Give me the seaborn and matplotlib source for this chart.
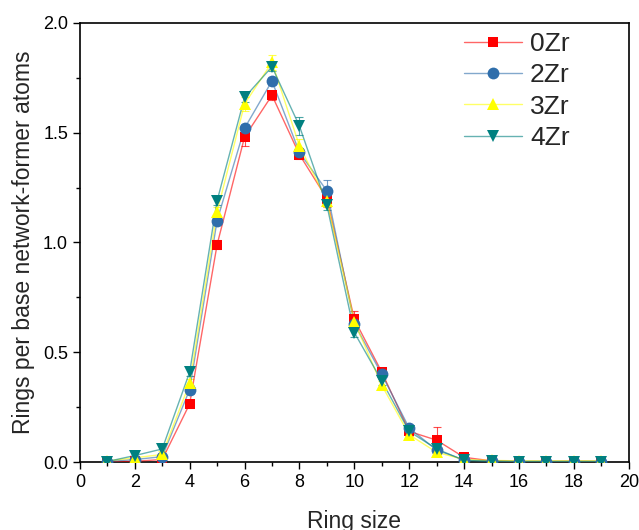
import numpy as np
import pandas as pd
import matplotlib
matplotlib.use("Agg")
import matplotlib.pyplot as plt
from matplotlib.ticker import MultipleLocator
import seaborn as sns

ring_size = list(range(1, 20))
labels = ["0Zr", "2Zr", "3Zr", "4Zr"]

zr0 = [0.002, 0.004, 0.012, 0.265, 0.99, 1.48, 1.67, 1.40, 1.20, 0.65, 0.41, 0.14, 0.10, 0.022, 0.006, 0.003, 0.003, 0.004, 0.003]
zr2 = [0.003, 0.012, 0.025, 0.33, 1.10, 1.52, 1.735, 1.41, 1.235, 0.63, 0.40, 0.155, 0.055, 0.010, 0.005, 0.003, 0.003, 0.003, 0.003]
zr3 = [0.006, 0.020, 0.035, 0.36, 1.14, 1.63, 1.82, 1.44, 1.19, 0.64, 0.35, 0.125, 0.045, 0.012, 0.008, 0.006, 0.006, 0.006, 0.006]
zr4 = [0.003, 0.030, 0.060, 0.41, 1.19, 1.66, 1.80, 1.53, 1.17, 0.59, 0.37, 0.14, 0.06, 0.008, 0.004, 0.003, 0.003, 0.003, 0.003]

err0 = [0.003, 0.005, 0.01, 0.02, 0.02, 0.04, 0.02, 0.02, 0.04, 0.04, 0.02, 0.02, 0.06, 0.015, 0.004, 0.002, 0.002, 0.003, 0.002]
err2 = [0.003, 0.008, 0.01, 0.02, 0.02, 0.02, 0.02, 0.02, 0.05, 0.03, 0.02, 0.015, 0.01, 0.006, 0.004, 0.002, 0.002, 0.002, 0.002]
err3 = [0.006, 0.01, 0.015, 0.02, 0.02, 0.03, 0.035, 0.03, 0.03, 0.03, 0.02, 0.015, 0.01, 0.006, 0.004, 0.004, 0.004, 0.004, 0.004]
err4 = [0.003, 0.02, 0.02, 0.02, 0.02, 0.02, 0.02, 0.04, 0.02, 0.02, 0.02, 0.01, 0.01, 0.005, 0.003, 0.002, 0.002, 0.002, 0.002]

series = [zr0, zr2, zr3, zr4]
errors = [err0, err2, err3, err4]
colors = ["#ff0000", "#2f6eab", "#ffff00", "#008080"]
markers = ["s", "o", "^", "v"]
msizes = [7.5, 8.5, 9, 9]

df = pd.concat(
    [pd.DataFrame({"Ring size": ring_size, "value": v, "sample": lab})
     for v, lab in zip(series, labels)],
    ignore_index=True,
)

sns.set_style("white")
plt.rcParams["font.family"] = ["Liberation Sans", "DejaVu Sans"]

fig = plt.figure(figsize=(6.39, 5.30), dpi=100)
ax = fig.add_axes([0.125, 0.128, 0.859, 0.829])

for lab, v, e, c, m, ms in zip(labels, series, errors, colors, markers, msizes):
    ax.errorbar(ring_size, v, yerr=e, fmt="none", ecolor=c, elinewidth=0.8,
                capsize=3, capthick=0.8, alpha=0.7, zorder=2)
    sub = df[df["sample"] == lab]
    sns.lineplot(data=sub, x="Ring size", y="value", ax=ax, color=c,
                 linewidth=1.0, alpha=0.6, zorder=3, legend=False)
    ax.plot(ring_size, v, linestyle="none", marker=m, markersize=ms,
            color=c, markeredgewidth=0, zorder=4)

# legend handles: line + marker
from matplotlib.lines import Line2D
handles = []
for c, m, ms in zip(colors, markers, msizes):
    handles.append((Line2D([], [], color=c, lw=1.0, alpha=0.6),
                    Line2D([], [], color=c, marker=m, ms=ms, ls="none", mew=0)))
leg = ax.legend(handles, labels, loc="upper left", bbox_to_anchor=(0.726, 0.94),
                bbox_transform=fig.transFigure, frameon=False, fontsize=19,
                handlelength=2.2, handletextpad=0.3, labelspacing=0.28,
                borderpad=0, borderaxespad=0)

ax.set_xlim(0, 20)
ax.set_ylim(0, 2.0)
ax.xaxis.set_major_locator(MultipleLocator(2))
ax.xaxis.set_minor_locator(MultipleLocator(1))
ax.yaxis.set_major_locator(MultipleLocator(0.5))
ax.yaxis.set_minor_locator(MultipleLocator(0.25))
ax.yaxis.set_major_formatter(matplotlib.ticker.FormatStrFormatter("%.1f"))
ax.tick_params(which="major", direction="out", length=5, width=1.0,
               labelsize=13, bottom=True, left=True, top=False, right=False, colors="black")
ax.tick_params(which="minor", direction="out", length=3, width=1.0,
               bottom=True, left=True, top=False, right=False, colors="black")
for s in ax.spines.values():
    s.set_color("black")
    s.set_linewidth(1.2)

ax.set_xlabel("Ring size", fontsize=16.5, labelpad=14)
ax.set_ylabel("Rings per base network-former atoms", fontsize=16.5, labelpad=6)

fig.savefig("out.png", dpi=100)
